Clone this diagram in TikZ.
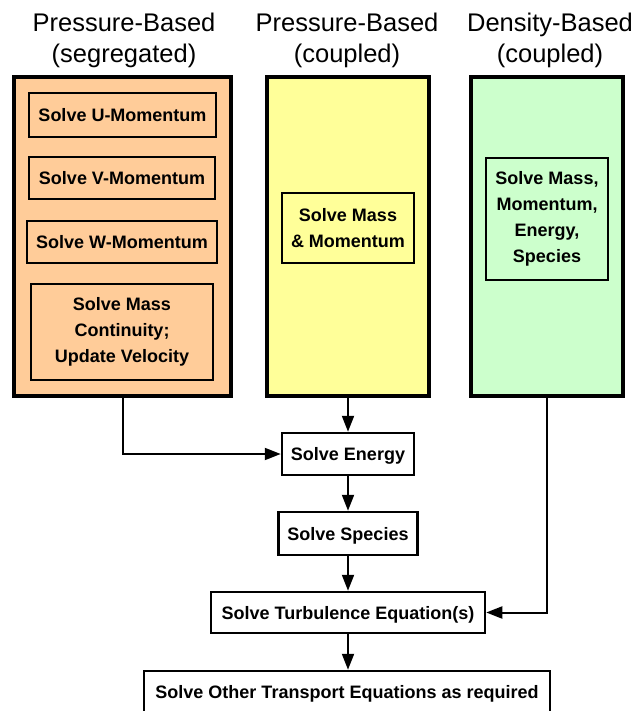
\documentclass[tikz,border=0pt]{standalone}
\usepackage{fontspec}
\setmainfont{Liberation Sans}
\usetikzlibrary{arrows.meta}
\definecolor{porange}{HTML}{FFCC99}
\definecolor{pyellow}{HTML}{FFFF99}
\definecolor{pgreen}{HTML}{CCFFCC}
\begin{document}
\begin{tikzpicture}[x=1pt,y=-1pt,
  outer/.style={draw,line width=4pt,inner sep=0pt},
  innerbox/.style={draw,line width=2.5pt,inner sep=0pt,align=center,font=\fontsize{18}{26}\selectfont\bfseries},
  onebox/.style={draw,line width=2.5pt,inner sep=0pt,text height=13pt,text depth=-3pt,font=\fontsize{18}{22}\selectfont\bfseries},
  lowerbox/.style={onebox,fill=white},
  title/.style={font=\fontsize{25.5}{31}\selectfont,anchor=base,inner sep=0pt},
  conn/.style={line width=2pt,-{Triangle[length=16pt,width=12pt]}}]
\useasboundingbox (0,0) rectangle (637,711);

% titles
\node[title] (t1a) at (124,32) {Pressure-Based};
\node[title] (t1b) at (124,63) {(segregated)};
\node[title] (t2a) at (347,32) {Pressure-Based};
\node[title] (t2b) at (347,63) {(coupled)};
\node[title] (t3a) at (550,32) {Density-Based};
\node[title] (t3b) at (550,63) {(coupled)};

% column boxes
\node[outer,fill=porange,minimum width=217pt,minimum height=319pt] (orange) at (122.5,236.5) {};
\node[outer,fill=pyellow,minimum width=162pt,minimum height=319pt] (yellow) at (348,236.5) {};
\node[outer,fill=pgreen,minimum width=152pt,minimum height=319pt] (green) at (547,236.5) {};

% inner boxes
\node[onebox,minimum width=187pt,minimum height=44pt] (umom) at (122.5,115) {Solve U-Momentum};
\node[onebox,minimum width=186pt,minimum height=42pt] (vmom) at (122,178) {Solve V-Momentum};
\node[onebox,minimum width=190pt,minimum height=42pt] (wmom) at (122,242) {Solve W-Momentum};
\node[innerbox,minimum width=182pt,minimum height=96pt] (mass) at (122,332) {Solve Mass\\Continuity;\\Update Velocity};
\node[innerbox,minimum width=132pt,minimum height=70pt] (massmom) at (348,228) {Solve Mass\\\& Momentum};
\node[innerbox,minimum width=122pt,minimum height=122pt] (all) at (547,219) {Solve Mass,\\Momentum,\\Energy,\\Species};

% lower chain
\node[lowerbox,minimum width=132pt,minimum height=42pt] (energy) at (348,454) {Solve Energy};
\node[lowerbox,minimum width=139pt,minimum height=43pt] (species) at (348,533.5) {Solve Species};
\node[lowerbox,minimum width=274pt,minimum height=41pt] (turb) at (348,612.5) {Solve Turbulence Equation(s)};
\node[lowerbox,minimum width=406pt,minimum height=42pt] (other) at (347,692) {Solve Other Transport Equations as required};

% connectors
\draw[conn] (orange.south) |- (energy.west);
\draw[conn] (yellow.south) -- (energy.north);
\draw[conn] (energy.south) -- (species.north);
\draw[conn] (species.south) -- (turb.north);
\draw[conn] (green.south) |- (turb.east);
\draw[conn] (turb.south) -- (turb.south |- other.north);
\end{tikzpicture}
\end{document}
